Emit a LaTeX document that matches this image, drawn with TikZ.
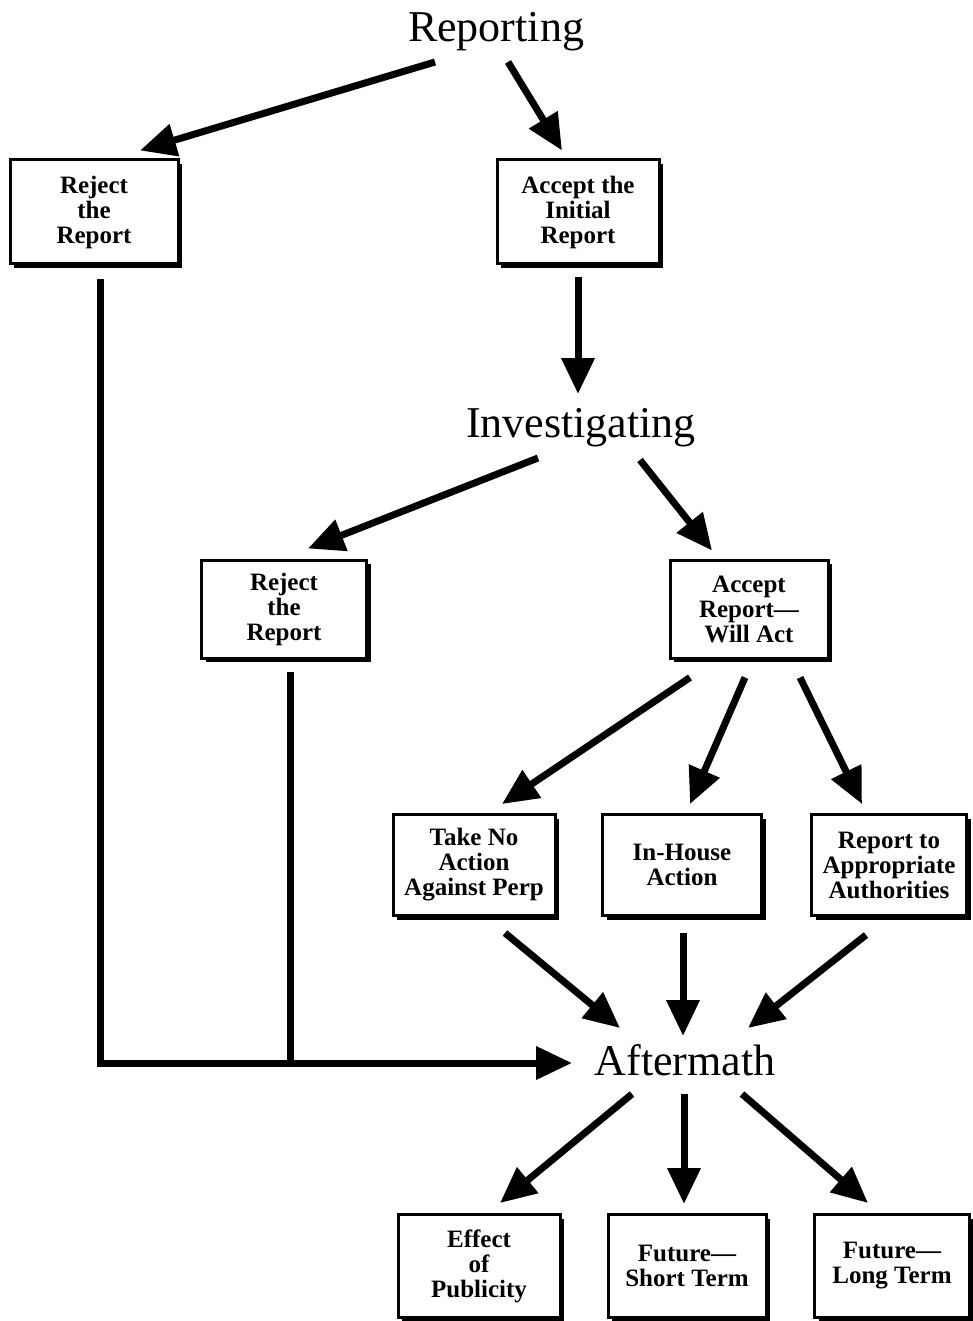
\documentclass[tikz,border=0pt]{standalone}
\usepackage{fontspec}
\setmainfont{Liberation Serif}
\usetikzlibrary{arrows.meta, calc, shadows, positioning}
\newcommand{\drawf}{\draw[line width=7pt]}

\begin{document}
\begin{tikzpicture}[x=1pt, y=-1pt, >={Triangle[length=36pt,width=32pt]},
  box/.style={draw, line width=3pt, fill=white, align=center, inner sep=0pt,
    font=\bfseries\fontsize{25}{25}\selectfont,
    drop shadow={shadow xshift=4pt, shadow yshift=-4pt, opacity=1, fill=black}},
  head/.style={anchor=base, inner sep=0pt, font=\fontsize{44}{44}\selectfont}]
\useasboundingbox (0,0) rectangle (973,1321);
% Tieu de
\node[head] (rep) at (496,42) {Reporting};
\node[head] (inv) at (581,437) {Investigating};
\node[head] (aft) at (685,1075) {Aftermath};

% Cac hop
\node[box, minimum width=168pt, minimum height=104pt] (rej1) at (94,212) {Reject\\the\\Report};
\node[box, minimum width=162pt, minimum height=104pt] (acc1) at (578,212) {Accept the\\Initial\\Report};
\node[box, minimum width=165pt, minimum height=98pt] (rej2) at (284,609) {Reject\\the\\Report};
\node[box, minimum width=158pt, minimum height=98pt] (acc2) at (749,609) {Accept\\Report---\\Will Act};
\node[box, minimum width=162pt, minimum height=101pt] (none) at (474,865) {Take No\\Action\\Against Perp};
\node[box, minimum width=159pt, minimum height=101pt] (inh) at (682,865) {In-House\\Action};
\node[box, minimum width=155pt, minimum height=101pt] (auth) at (889,865) {Report to\\Appropriate\\Authorities};
\node[box, minimum width=162pt, minimum height=103pt] (eff) at (479,1266) {Effect\\of\\Publicity};
\node[box, minimum width=158pt, minimum height=103pt] (fst) at (687,1266) {Future---\\Short Term};
\node[box, minimum width=155pt, minimum height=103pt] (flt) at (892,1266) {Future---\\Long Term};

% Mui ten
\drawf[->] ([shift={(-61,20)}]rep.base) -- ([shift={(46,-8)}]rej1.north);
\drawf[->] ([shift={(12,20)}]rep.base) -- ([shift={(-16,-8)}]acc1.north);
\drawf[->] ([shift={(0,12)}]acc1.south) -- ([shift={(-3,-43)}]inv.base);
\drawf[->] ([shift={(-43,21)}]inv.base) -- ([shift={(24,-10)}]rej2.north);
\drawf[->] ([shift={(59,23)}]inv.base) -- ([shift={(-37,-8)}]acc2.north);
\drawf[->] ([shift={(-59,18)}]acc2.south) -- ([shift={(28,-9)}]none.north);
\drawf[->] ([shift={(-4,18)}]acc2.south) -- ([shift={(8,-9)}]inh.north);
\drawf[->] ([shift={(51,18)}]acc2.south) -- ([shift={(-27,-9)}]auth.north);
\drawf[->] ([shift={(31,16)}]none.south) -- ([shift={(-65,-47)}]aft.base);
\drawf[->] ([shift={(1,16)}]inh.south) -- ([shift={(-2,-39)}]aft.base);
\drawf[->] ([shift={(-23,18)}]auth.south) -- ([shift={(63,-47)}]aft.base);

% Duong tu choi
\coordinate (aftin) at ([shift={(-113,-12)}]aft.base);
\coordinate (rej2out) at ([shift={(6,12)}]rej2.south);
\drawf[->] ([shift={(6,14)}]rej1.south) |- (aftin);
\drawf (rej2out) -- (rej2out |- aftin);

% Ngo ra
\drawf[->] ([shift={(-53,19)}]aft.base) -- ([shift={(21,-10)}]eff.north);
\drawf[->] ([shift={(-1,19)}]aft.base) -- ([shift={(-3,-9)}]fst.north);
\drawf[->] ([shift={(57,19)}]aft.base) -- ([shift={(-24,-10)}]flt.north);
\end{tikzpicture}
\end{document}
